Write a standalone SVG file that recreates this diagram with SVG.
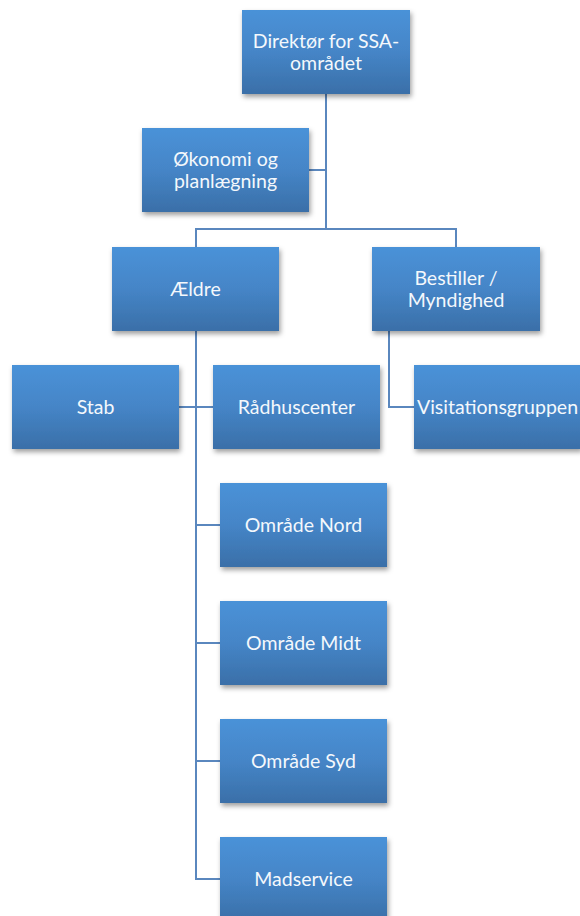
<svg xmlns="http://www.w3.org/2000/svg" width="580" height="916" viewBox="0 0 580 916">
  <defs>
    <linearGradient id="boxFill" x1="0" y1="0" x2="0" y2="1">
      <stop offset="0" stop-color="#4a92d8"/>
      <stop offset="0.5" stop-color="#4585c7"/>
      <stop offset="1" stop-color="#3a6fa8"/>
    </linearGradient>
    <filter id="shadow" x="-10%" y="-10%" width="125%" height="135%">
      <feDropShadow dx="1.5" dy="3" stdDeviation="2.5" flood-color="#000" flood-opacity="0.38"/>
    </filter>
  </defs>
  <style>
    .box { fill: url(#boxFill); filter: url(#shadow); }
    .lbl { font-family: Lato, "Open Sans", "Liberation Sans", sans-serif; font-size: 19.5px; fill: #f4f8fc; text-anchor: middle; }
    .wire { fill: none; stroke: #5a87be; stroke-width: 2; }
  </style>
  <rect width="580" height="916" fill="#ffffff"/>

  <!-- connectors -->
  <g id="connectors" class="wire">
    <path d="M326 94 V229"/>
    <path d="M309 170 H326"/>
    <path d="M196 247 V229 H456 V247"/>
    <path d="M196 331 V879 H220"/>
    <path d="M179 407 H213"/>
    <path d="M196 525 H220"/>
    <path d="M196 643 H220"/>
    <path d="M196 761 H220"/>
    <path d="M389 331 V407 H414"/>
  </g>

  <g id="direktor">
    <rect class="box" x="242" y="10" width="168" height="84"/>
    <text class="lbl" x="326" y="48">Direktør for SSA-</text>
    <text class="lbl" x="326" y="70">området</text>
  </g>
  <g id="okonomi">
    <rect class="box" x="142" y="128" width="167" height="84"/>
    <text class="lbl" x="225.5" y="166">Økonomi og</text>
    <text class="lbl" x="225.5" y="188">planlægning</text>
  </g>
  <g id="aeldre">
    <rect class="box" x="112" y="247" width="167" height="84"/>
    <text class="lbl" x="195.5" y="296">Ældre</text>
  </g>
  <g id="bestiller">
    <rect class="box" x="372" y="247" width="168" height="84"/>
    <text class="lbl" x="456" y="285">Bestiller /</text>
    <text class="lbl" x="456" y="307">Myndighed</text>
  </g>
  <g id="stab">
    <rect class="box" x="12" y="365" width="167" height="84"/>
    <text class="lbl" x="95.5" y="414">Stab</text>
  </g>
  <g id="raadhuscenter">
    <rect class="box" x="213" y="365" width="167" height="84"/>
    <text class="lbl" x="296.5" y="414">Rådhuscenter</text>
  </g>
  <g id="visitationsgruppen">
    <rect class="box" x="414" y="365" width="167" height="84"/>
    <text class="lbl" x="497.5" y="414">Visitationsgruppen</text>
  </g>
  <g id="omraade-nord">
    <rect class="box" x="220" y="483" width="167" height="84"/>
    <text class="lbl" x="303.5" y="532">Område Nord</text>
  </g>
  <g id="omraade-midt">
    <rect class="box" x="220" y="601" width="167" height="84"/>
    <text class="lbl" x="303.5" y="650">Område Midt</text>
  </g>
  <g id="omraade-syd">
    <rect class="box" x="220" y="719" width="167" height="84"/>
    <text class="lbl" x="303.5" y="768">Område Syd</text>
  </g>
  <g id="madservice">
    <rect class="box" x="220" y="837" width="167" height="84"/>
    <text class="lbl" x="303.5" y="886">Madservice</text>
  </g>
</svg>
